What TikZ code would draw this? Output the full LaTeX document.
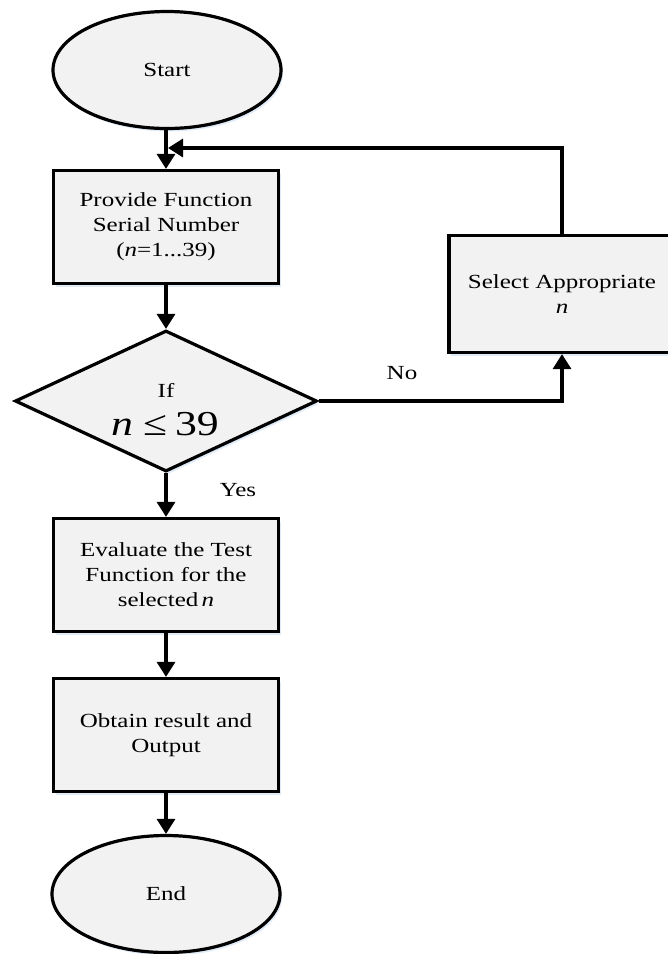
\documentclass[tikz,border=0pt]{standalone}
\usepackage{fontspec}
\setmainfont[FakeStretch=1.25]{Liberation Serif}
\usetikzlibrary{arrows.meta,shapes.geometric,shadows}
\definecolor{boxgray}{HTML}{F2F2F2}
\definecolor{glow}{HTML}{C9DDF2}
\begin{document}
\begin{tikzpicture}[x=1pt,y=-1pt,
  every node/.style={font=\fontsize{20}{25}\selectfont},
  soft/.style={drop shadow={shadow xshift=2pt,shadow yshift=-3pt,fill=glow,opacity=0.6}},
  flowbox/.style={draw,line width=3.2pt,fill=boxgray,soft,minimum width=225pt,minimum height=113pt,align=center,inner sep=0pt},
  terminal/.style={ellipse,draw,line width=3.2pt,fill=boxgray,soft,minimum width=228pt,minimum height=117pt,inner sep=0pt},
  decision/.style={diamond,draw,line width=3.2pt,fill=boxgray,soft,minimum width=302pt,minimum height=141pt,inner sep=0pt},
  flow/.style={line width=3.2pt,-{Triangle[width=18pt,length=15pt]}},
]
\useasboundingbox (0,0) rectangle (668,954);

% process nodes
\node[terminal] (start) at (167,70) {Start};
\node[flowbox] (prov) at (166,227) {Provide Function\\Serial Number\\(\textit{n}=1...39)};
\node[decision] (dec) at (166,401) {};
\node (iftxt) at (166,390) {If};
\node[font=\fontsize{35}{40}\selectfont] (cond) at (165,424) {\textit{n}\kern10pt≤\kern8pt39};
\node[flowbox,minimum width=226pt,minimum height=117pt] (sel) at (562,294) {Select Appropriate\\\textit{n}};
\node[flowbox] (eval) at (166,575) {Evaluate the Test\\Function for the\\selected\,\textit{n}};
\node[flowbox] (outp) at (166,735) {Obtain result and\\Output};
\node[terminal] (end) at (166,894) {End};

% branch labels
\node (no) at (402,373) {No};
\node (yes) at (238,490) {Yes};

% connectors
\coordinate (fb) at (168,148);
\draw[flow] (start.south -| prov.north) -- (prov.north);
\draw[flow] (sel.north) |- (fb);
\draw[flow] (prov.south) -- (dec.north);
\draw[flow] (dec.east) -| (sel.south);
\draw[flow] (dec.south) -- (eval.north);
\draw[flow] (eval.south) -- (outp.north);
\draw[flow] (outp.south) -- (end.north);
\end{tikzpicture}
\end{document}
